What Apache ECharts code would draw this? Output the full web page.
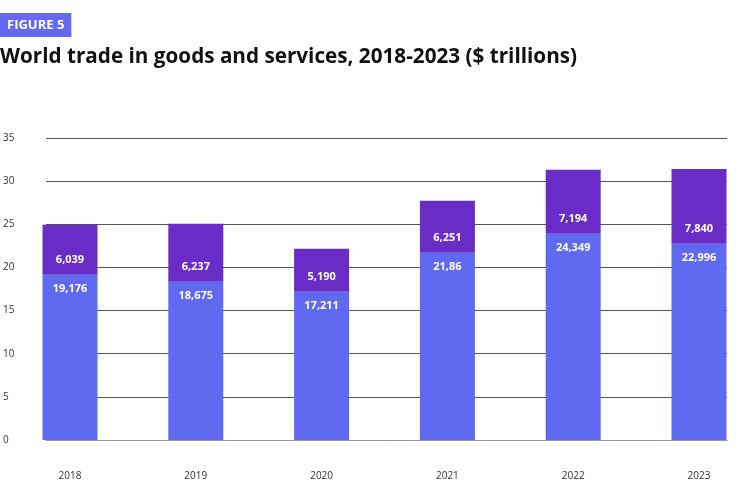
<!DOCTYPE html>
<html><head><meta charset="utf-8">
<script src="https://cdn.jsdelivr.net/npm/echarts@6/dist/echarts.min.js"></script>
<style>html,body{margin:0;padding:0;background:#fff}#c{width:750px;height:504px}</style>
</head><body><div id="c"></div>
<script>
const years = ['2018','2019','2020','2021','2022','2023'];
// bar heights ($ trillions)
const goods = [19.15, 18.34, 17.19, 21.70, 23.90, 22.74];
const services = [5.79, 6.72, 4.97, 6.02, 7.41, 8.68];
// value labels as printed on the bars
const goodsLabels = ['19,176','18,675','17,211','21,86','24,349','22,996'];
const servicesLabels = ['6,039','6,237','5,190','6,251','7,194','7,840'];

const chart = echarts.init(document.getElementById('c'));
const font = 'Open Sans';
chart.setOption({
  animation: false,
  backgroundColor: '#fff',
  title: [
    {text: 'FIGURE 5', left: 0, top: 13, backgroundColor: '#6468F2', padding: [6, 7, 5, 7],
     textStyle: {color: '#fff', fontFamily: font, fontWeight: 'bold', fontSize: 13}},
    {text: 'World trade in goods and services, 2018-2023 ($ trillions)', left: 0, top: 47, padding: 0,
     textStyle: {color: '#111', fontFamily: font, fontWeight: 'bold', fontSize: 20.7}}
  ],
  grid: [
    {left: 43, right: 23, top: 138, bottom: 64},
    {left: 7.1, right: -11.9, top: 138, bottom: 64, outerBoundsMode: 'none'}
  ],
  xAxis: [
    {type: 'value', gridIndex: 0, min: 0, max: 1, show: true,
     splitLine: {show: false}, axisTick: {show: false}, axisLabel: {show: false},
     axisLine: {show: true, lineStyle: {color: '#999', width: 1}}},
    {type: 'category', gridIndex: 1, data: years, boundaryGap: true,
     axisLine: {show: false}, axisTick: {show: false}, splitLine: {show: false},
     axisLabel: {margin: 31, color: '#333', fontFamily: font, fontSize: 10}}
  ],
  yAxis: [
    {type: 'value', gridIndex: 0, min: 0, max: 35, interval: 5,
     axisLine: {show: false}, axisTick: {show: false},
     splitLine: {show: true, lineStyle: {color: '#555', width: 1.2}},
     axisLabel: {align: 'left', margin: 43, color: '#333', fontFamily: font, fontSize: 10}},
    {type: 'value', gridIndex: 1, min: 0, max: 35, interval: 5, show: false,
     splitLine: {show: false}}
  ],
  series: [
    {type: 'bar', stack: 't', barWidth: 55, z: 3, xAxisIndex: 1, yAxisIndex: 1,
     data: goods,
     itemStyle: {color: '#5F6AF1'},
     label: {show: true, position: 'insideTop', distance: 9, color: '#fff', fontFamily: font,
       fontWeight: 'bold', fontSize: 11, formatter: p => goodsLabels[p.dataIndex]}},
    {type: 'bar', stack: 't', barWidth: 55, z: 3, xAxisIndex: 1, yAxisIndex: 1,
     data: services,
     itemStyle: {color: '#6A2CC6'},
     label: {show: true, position: 'insideBottom', distance: 9, color: '#fff', fontFamily: font,
       fontWeight: 'bold', fontSize: 11, formatter: p => servicesLabels[p.dataIndex]}}
  ]
});
</script></body></html>
